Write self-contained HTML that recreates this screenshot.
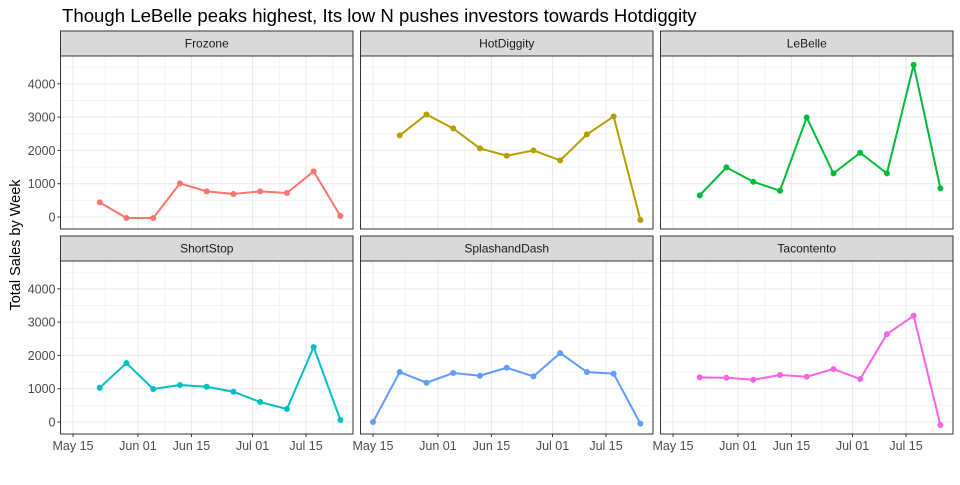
<!DOCTYPE html>
<html><head><meta charset="utf-8"><style>
body{margin:0;background:#fff;width:960px;height:480px;overflow:hidden;font-family:"Liberation Sans",Arial,sans-serif}
</style></head><body>
<svg id="chart" width="960" height="480" xmlns="http://www.w3.org/2000/svg" font-family="Liberation Sans, Arial, sans-serif">
<text x="62" y="22" font-size="18.6" fill="#000">Though LeBelle peaks highest, Its low N pushes investors towards Hotdiggity</text>
<text transform="translate(20,245) rotate(-90)" text-anchor="middle" font-size="14.5" fill="#000">Total Sales by Week</text>
</svg>
<script>
const panelNames = ["Frozone","HotDiggity","LeBelle","ShortStop","SplashandDash","Tacontento"];
const panelColors = ["#F8766D","#B79F00","#00BA38","#00BFC4","#619CFF","#F564E3"];
const weekDates = ["2019-05-22","2019-05-29","2019-06-05","2019-06-12","2019-06-19","2019-06-26","2019-07-03","2019-07-10","2019-07-17","2019-07-24"];
const splashDates = ["2019-05-15","2019-05-22","2019-05-29","2019-06-05","2019-06-12","2019-06-19","2019-06-26","2019-07-03","2019-07-10","2019-07-17","2019-07-24"];
const frozoneValues = [440,-30,-30,1010,770,690,770,720,1370,30];
const hotdiggityValues = [2450,3080,2660,2060,1840,2000,1700,2480,3020,-90];
const lebelleValues = [650,1490,1060,790,2990,1310,1930,1310,4570,860];
const shortstopValues = [1030,1770,990,1110,1060,910,600,390,2250,60];
const splashValues = [0,1500,1180,1470,1390,1630,1370,2070,1500,1450,-50];
const tacontentoValues = [1340,1330,1270,1410,1360,1590,1290,2640,3190,-90];
const yTicks = [0,1000,2000,3000,4000];
const xTickDates = ["2019-05-15","2019-06-01","2019-06-15","2019-07-01","2019-07-15"];
const xTickLabels = ["May 15","Jun 01","Jun 15","Jul 01","Jul 15"];

const seriesDates=[weekDates,weekDates,weekDates,weekDates,splashDates,weekDates];
const seriesVals=[frozoneValues,hotdiggityValues,lebelleValues,shortstopValues,splashValues,tacontentoValues];
const NS="http://www.w3.org/2000/svg";
const svg=document.getElementById('chart');
function mk(tag,attrs,parent){const e=document.createElementNS(NS,tag);for(const k in attrs)e.setAttribute(k,attrs[k]);(parent||svg).appendChild(e);return e;}
const DAY=86400000;
const x0=Date.parse("2019-05-15")-3.27*DAY;
const pxDay=3.82;
const colX=[60.5,360.5,660.5], pw=292.5;
const rowTop=[56,261], ph=173;
const yMin=-360,yMax=4835;
function xs(c,d){return colX[c]+(Date.parse(d)-x0)/DAY*pxDay;}
function ys(r,v){return rowTop[r]+ph-(v-yMin)/(yMax-yMin)*ph;}
panelNames.forEach((name,i)=>{
  const c=i%3,r=Math.floor(i/3);
  const L=colX[c],T=rowTop[r];
  const g=mk('g',{});
  
  
  for(let v=-500;v<=5000;v+=500){const y=ys(r,v);if(y<T||y>T+ph)continue;
    const ln=mk('line',{x1:L,x2:L+pw,y1:y,y2:y,stroke:'#ebebeb','stroke-width':v%1000===0?1.1:0.55},g);
    }
  const tx=xTickDates.map(d=>xs(c,d));
  const all=[];
  for(let k=0;k<tx.length;k++){all.push([tx[k],1.1]);if(k<tx.length-1)all.push([(tx[k]+tx[k+1])/2,0.55]);}
  all.push([tx[0]-(tx[1]-tx[0])/2,0.55]);all.push([tx[4]+(tx[4]-tx[3])/2,0.55]);all.push([tx[4]+(tx[4]-tx[3]),1.1]);
  all.forEach(([x,w])=>{if(x<L||x>L+pw)return;
    const ln=mk('line',{x1:x,x2:x,y1:T,y2:T+ph,stroke:'#ebebeb','stroke-width':w},g);
    });
  const st=mk('rect',{x:L,y:T-25,width:pw,height:25,fill:'#d9d9d9',stroke:'#333','stroke-width':1},g);
  
  const stt=mk('text',{x:L+pw/2,y:T-8.5,'text-anchor':'middle','font-size':12,fill:'#1a1a1a'},g);stt.textContent=name;
  
  const ds=seriesDates[i],vs=seriesVals[i];
  const pts=vs.map((v,k)=>[xs(c,ds[k]),ys(r,v)]);
  const pl=mk('polyline',{points:pts.map(p=>p.join(',')).join(' '),fill:'none',stroke:panelColors[i],'stroke-width':2},g);
  
  pts.forEach(p=>{const cc=mk('circle',{cx:p[0],cy:p[1],r:3,fill:panelColors[i]},g);
    });
  const bd=mk('rect',{x:L,y:T,width:pw,height:ph,fill:'none',stroke:'#333','stroke-width':1},g);
  
  if(c===0){yTicks.forEach(v=>{const y=ys(r,v);
    mk('line',{x1:L-3,x2:L,y1:y,y2:y,stroke:'#333'},g);
    const t=mk('text',{x:L-5,y:y+4.5,'text-anchor':'end','font-size':12.5,fill:'#4d4d4d'},g);t.textContent=v;
    });}
  if(r===1){xTickDates.forEach((d,k)=>{const x=xs(c,d);
    mk('line',{x1:x,x2:x,y1:T+ph,y2:T+ph+3,stroke:'#333'},g);
    const t=mk('text',{x:x,y:T+ph+16,'text-anchor':'middle','font-size':12.5,fill:'#4d4d4d'},g);t.textContent=xTickLabels[k];
    });}
});
</script>
</body></html>
